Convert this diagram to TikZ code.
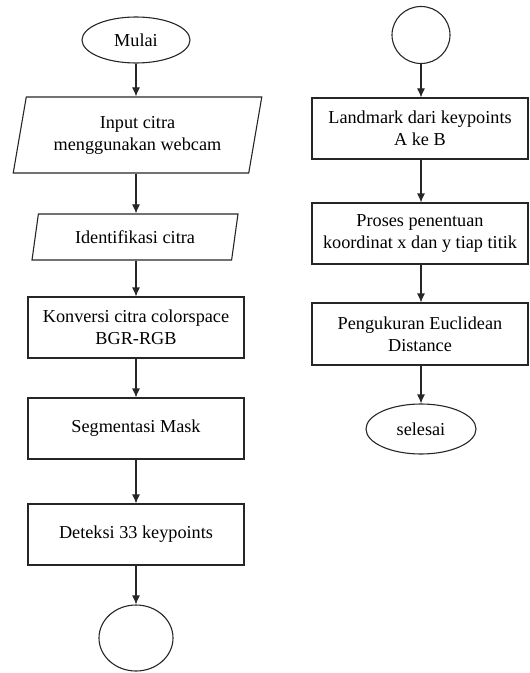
\documentclass[tikz,border=0pt]{standalone}
\usepackage{fontspec}
\setmainfont{Liberation Serif}
\usetikzlibrary{shapes.geometric,arrows.meta}
\begin{document}
\begin{tikzpicture}[x=1bp,y=-1bp,
  base/.style={draw=black!85,line width=1.1bp,align=center,inner sep=2bp,
    font=\fontsize{18.3}{22}\selectfont},
  proc/.style={base,rectangle,minimum width=216bp,minimum height=61bp},
  io/.style={base,trapezium,trapezium left angle=76.5,trapezium right angle=103.5,
    trapezium stretches=true},
  term/.style={base,ellipse},
  conn/.style={base,ellipse},
  arr/.style={draw=black!85,line width=1.1bp,-{Latex[length=9bp,width=8bp]}}]
\useasboundingbox (0,0) rectangle (530,673);
% left column
\node[term,minimum width=108bp,minimum height=46bp] (mulai) at (136,40) {Mulai};
\node[io,minimum width=249bp,minimum height=76bp] (input) at (137.5,135) {Input citra\\menggunakan webcam};
\node[io,minimum width=206bp,minimum height=46bp] (ident) at (135,237) {Identifikasi citra};
\node[proc] (konv) at (136,327.5) {Konversi citra colorspace\\BGR-RGB};
\node[proc] (segm) at (136,428.5) {Segmentasi Mask};
\node[proc] (det) at (136,534.5) {Deteksi 33 keypoints};
\node[conn,minimum width=74bp,minimum height=66bp] (c1) at (136,638) {};
% right column
\node[conn,minimum width=58bp,minimum height=57bp] (c2) at (421,35) {};
\node[proc] (land) at (420,128.5) {Landmark dari keypoints\\A ke B};
\node[proc] (pros) at (420,233.5) {Proses penentuan\\koordinat x dan y tiap titik};
\node[proc,minimum height=62bp] (peng) at (420,334) {Pengukuran Euclidean\\Distance};
\node[term,minimum width=110bp,minimum height=50bp] (sel) at (421,429) {selesai};
% connectors
\draw[arr] (mulai.south) -- (mulai.south |- input.north);
\draw[arr] (input.south -| mulai.south) -- (mulai.south |- ident.north);
\draw[arr] (ident.south -| mulai.south) -- (mulai.south |- konv.north);
\draw[arr] (konv.south -| mulai.south) -- (mulai.south |- segm.north);
\draw[arr] (segm.south -| mulai.south) -- (mulai.south |- det.north);
\draw[arr] (det.south -| mulai.south) -- (c1.north);
\draw[arr] (c2.south) -- (c2.south |- land.north);
\draw[arr] (land.south -| c2.south) -- (c2.south |- pros.north);
\draw[arr] (pros.south -| c2.south) -- (c2.south |- peng.north);
\draw[arr] (peng.south -| c2.south) -- (sel.north);
\end{tikzpicture}
\end{document}
